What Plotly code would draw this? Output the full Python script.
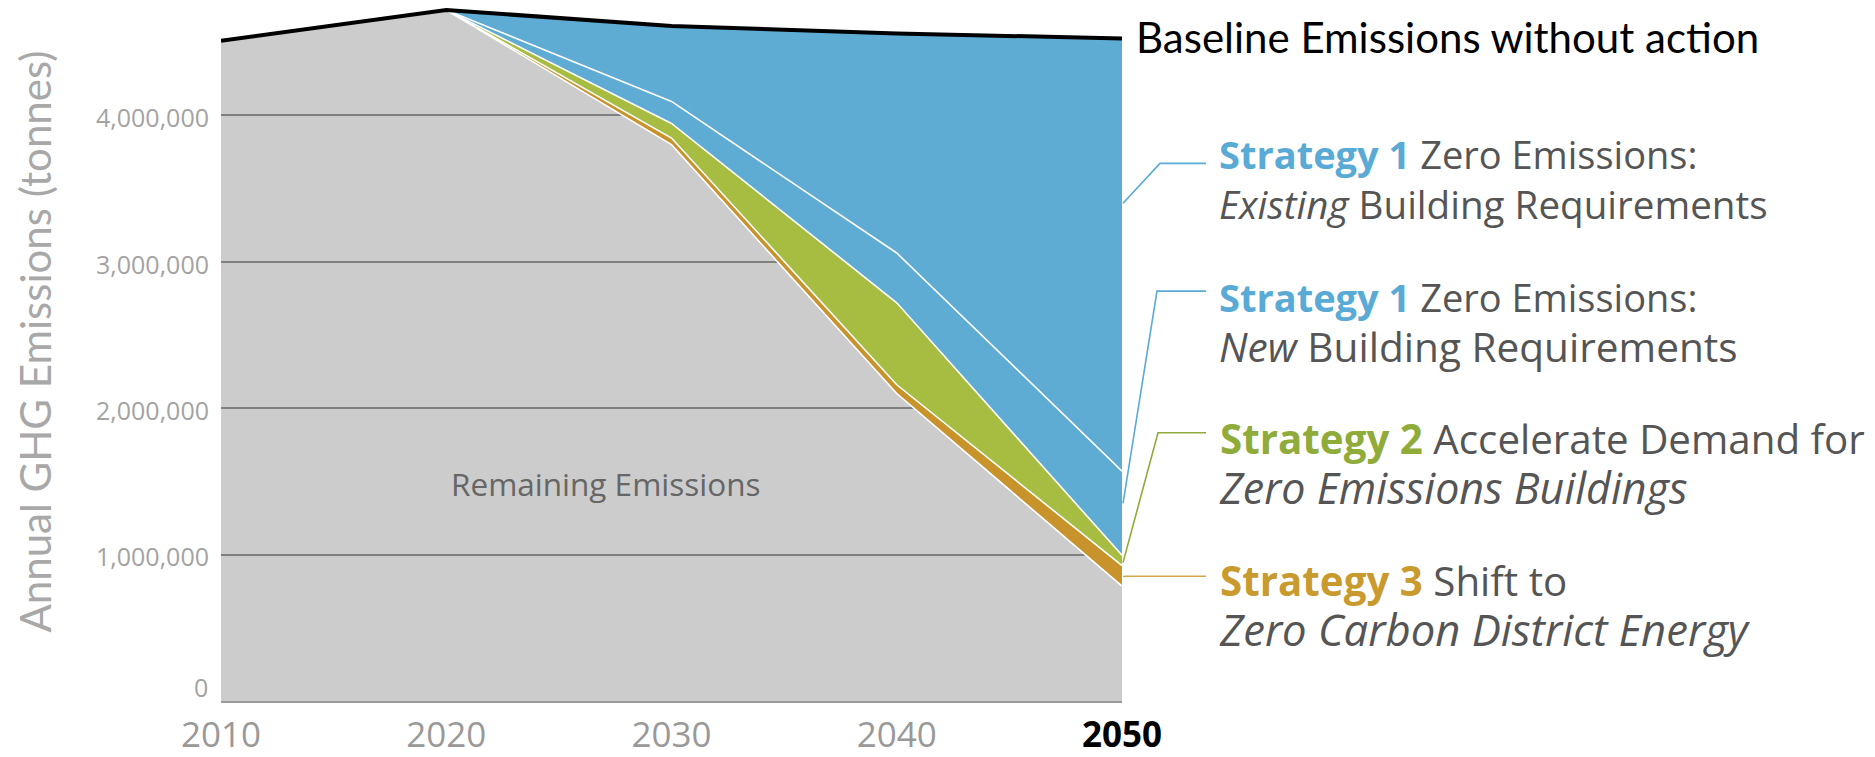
import plotly.graph_objects as go

# ---------------- data (tonnes) ----------------
years = [2010, 2020, 2030, 2040, 2050]
remaining = [4510000, 4720000, 3800000, 2100000, 785000]
s3_district_energy = [0, 0, 45000, 60000, 140000]
s2_demand_zero_buildings = [0, 0, 100000, 560000, 70000]
s1_new_buildings = [0, 0, 150000, 340000, 575000]
s1_existing_buildings = [0, 0, 515000, 1500000, 2955000]
y_tick_values = [0, 1000000, 2000000, 3000000, 4000000]
x_tick_labels = ["2010", "2020", "2030", "2040", "2050"]

baseline = [a + b + c + d + e for a, b, c, d, e in zip(
    remaining, s3_district_energy, s2_demand_zero_buildings,
    s1_new_buildings, s1_existing_buildings)]

# ---------------- layout geometry ----------------
W, H = 1875, 757
ML, MR, MT, MB = 221, 753, 0, 49
PW, PH = W - ML - MR, H - MT - MB
YMAX = 4788000

def px(xpix):
    return (xpix - ML) / PW

def py(ypix):
    return (H - MB - ypix) / PH

def vy(v):
    return v / YMAX

BLUE = "#5eabd3"
GREEN = "#a6bd42"
ORANGE = "#c8932a"
BLUE_T = "#5aaad6"
GREEN_T = "#8fab39"
ORANGE_T = "#c99a2e"
DARK = "#555555"
FONT = "Lato"
FONT2 = "Open Sans"

fig = go.Figure()

layers = [
    ("Remaining Emissions", remaining, "rgba(0,0,0,0.2)"),
    ("Strategy 3", s3_district_energy, ORANGE),
    ("Strategy 2", s2_demand_zero_buildings, GREEN),
    ("Strategy 1 New", s1_new_buildings, BLUE),
    ("Strategy 1 Existing", s1_existing_buildings, BLUE),
]
for name, vals, col in layers:
    fig.add_trace(go.Scatter(
        x=years, y=vals, name=name, stackgroup="one", mode="lines",
        fillcolor=col, line=dict(color="white", width=1.6),
        hoverinfo="skip", showlegend=False))

fig.add_trace(go.Scatter(
    x=years, y=baseline, mode="lines", line=dict(color="black", width=4),
    hoverinfo="skip", showlegend=False))

# ---------------- leader lines ----------------
x_start = px(1123)
leaders = [
    # (start y value at 2050, elbow pixel x, horizontal pixel y, colour)
    (3400000, 1160, 165, BLUE_T),
    (1350000, 1157, 294, BLUE_T),
    (945000, 1158, 437, GREEN_T),
    (850000, 1126, 582, "#d5a84c"),
]
for v, ex, hy, col in leaders:
    path = f"M {x_start},{vy(v)} L {px(ex)},{py(hy)} L {px(1206)},{py(hy)}"
    fig.add_shape(type="path", path=path, xref="paper", yref="paper",
                  line=dict(color=col, width=1.6))

# ---------------- annotations ----------------
ann = []
ann.append(dict(text="Baseline Emissions without action", x=px(1134), y=py(37),
                xanchor="left", yanchor="middle",
                font=dict(family=FONT, size=42, color="black")))

def sized(t, fs):
    return f'<span style="font-size:{fs}px">{t}</span>'

blocks = [
    (f'<b><span style="color:{BLUE_T}">Strategy 1</span></b> Zero Emissions:', 38,
     '<i>Existing</i> Building Requirements', 38.6, 181),
    (f'<b><span style="color:{BLUE_T}">Strategy 1</span></b> Zero Emissions:', 38,
     '<i>New</i> Building Requirements', 40.6, 325.5),
    (f'<b><span style="color:{GREEN_T}">Strategy 2</span></b> Accelerate Demand for', 40.3,
     '<i>Zero Emissions Buildings</i>', 43, 469),
    (f'<b><span style="color:{ORANGE_T}">Strategy 3</span></b> Shift to', 40.3,
     '<i>Zero Carbon District Energy</i>', 43.6, 612.5),
]
for l1, f1, l2, f2, yc in blocks:
    ann.append(dict(text=sized(l1, f1) + "<br>" + sized(l2, f2),
                    x=px(1217), y=py(yc), xanchor="left", yanchor="middle",
                    align="left", font=dict(family=FONT2, size=38.5, color=DARK)))
ann.append(dict(text="Remaining Emissions", x=2027.1, y=1513000, xref="x", yref="y",
                yshift=-4, xanchor="center", yanchor="middle",
                font=dict(family=FONT2, size=31.5, color="#666666")))
ann.append(dict(text="Annual GHG Emissions (tonnes)", x=px(35), y=py(345),
                textangle=-90, xanchor="center", yanchor="middle",
                font=dict(family=FONT, size=42, color="#a8a8a8")))
# the zero label sits a little above the axis line in the original
ann.append(dict(text=f"{y_tick_values[0]:,d}", x=px(210), y=y_tick_values[0], yref="y",
                xanchor="right", yanchor="middle", yshift=14,
                font=dict(family=FONT2, size=25, color="#a3a3a3")))
for a in ann:
    a.setdefault("xref", "paper")
    a.setdefault("yref", "paper")
    a["showarrow"] = False

ticktext = x_tick_labels[:-1] + [f'<span style="color:black"><b>{x_tick_labels[-1]}</b></span>']

fig.update_layout(
    width=W, height=H,
    margin=dict(l=ML, r=MR, t=MT, b=MB, pad=0),
    paper_bgcolor="white", plot_bgcolor="white",
    annotations=ann,
    xaxis=dict(range=[2010, 2050], tickvals=years, ticktext=ticktext,
               showgrid=False, zeroline=False, showline=True, linecolor="#9a9a9a",
               linewidth=1.5, ticks="", ticklabelstandoff=2,
               tickfont=dict(family=FONT2, size=35, color="#999999")),
    yaxis=dict(range=[0, YMAX], tickvals=y_tick_values[1:], tickformat=",d",
               showgrid=True, gridcolor="#a0a0a0", gridwidth=1.5,
               zeroline=False, showline=False, ticks="", ticklabelstandoff=11,
               ticklabelshift=3,
               tickfont=dict(family=FONT2, size=25, color="#a3a3a3")),
    hovermode=False,
)

fig.write_html("out.html", config={"displayModeBar": False},
               post_script="document.body.style.margin='0px';")
